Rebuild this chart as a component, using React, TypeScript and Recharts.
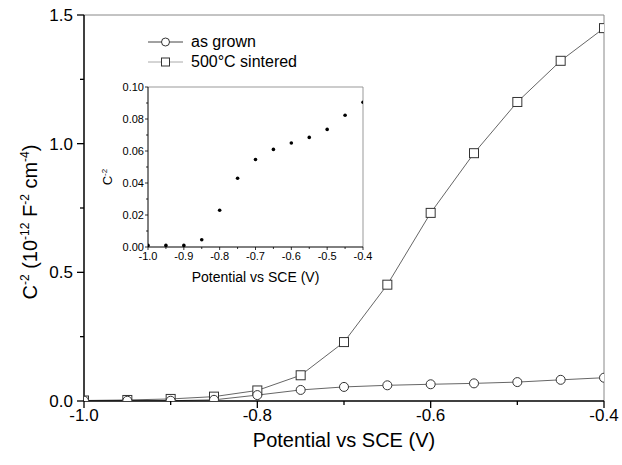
import React from 'react';
import { LineChart, Line, XAxis, YAxis, ReferenceLine, Legend, ScatterChart, Scatter, Label } from 'recharts';

const potentials = [-1.0, -0.95, -0.9, -0.85, -0.8, -0.75, -0.7, -0.65, -0.6, -0.55, -0.5, -0.45, -0.4];
const asGrown = [0.001, 0.001, 0.001, 0.0045, 0.023, 0.043, 0.0547, 0.061, 0.065, 0.0685, 0.0735, 0.0823, 0.0905];
const sintered = [0.002, 0.004, 0.008, 0.017, 0.041, 0.1, 0.229, 0.452, 0.731, 0.963, 1.162, 1.322, 1.449];
const seriesNames = { grown: 'as grown', sintered: '500°C sintered' };
const legendOrder = ['grown', 'sintered'];
const mainXTicks = [-1.0, -0.9, -0.8, -0.7, -0.6, -0.5, -0.4];
const mainYTicks = [0, 0.25, 0.5, 0.75, 1.0, 1.25, 1.5];
const insetXTicks = [-1.0, -0.95, -0.9, -0.85, -0.8, -0.75, -0.7, -0.65, -0.6, -0.55, -0.5, -0.45, -0.4];
const insetYTicks = [0, 0.01, 0.02, 0.03, 0.04, 0.05, 0.06, 0.07, 0.08, 0.09, 0.1];
const xTitle = 'Potential vs SCE (V)';

const mainData = potentials.map((x, i) => ({ x, grown: asGrown[i], sintered: sintered[i] }));
const insetData = potentials.map((x, i) => ({ x, y: asGrown[i] }));

const FONT = '"Liberation Sans", Arial, Helvetica, sans-serif';
const LINE_COLOR = '#666';
const MARK_COLOR = '#333';

const MainXTick = (props: any) => {
  const { x, y, payload } = props;
  const v = payload.value;
  const major = Math.round(v * 10) % 2 === 0;
  return (
    <g>
      <line x1={x} y1={y} x2={x} y2={y + (major ? 7 : 4)} stroke="#000" strokeWidth={1.3} />
      {major && (
        <text x={x} y={y + 20} textAnchor="middle" fontSize={17} fontFamily={FONT} fill="#000">
          {v.toFixed(1)}
        </text>
      )}
    </g>
  );
};

const MainYTick = (props: any) => {
  const { x, y, payload } = props;
  const v = payload.value;
  const major = Math.round(v * 4) % 2 === 0;
  return (
    <g>
      <line x1={x} y1={y} x2={x - (major ? 7 : 4)} y2={y} stroke="#000" strokeWidth={1.3} />
      {major && (
        <text x={x - 11} y={y + 6} textAnchor="end" fontSize={17} fontFamily={FONT} fill="#000">
          {v.toFixed(1)}
        </text>
      )}
    </g>
  );
};

const InsetXTick = (props: any) => {
  const { x, y, payload } = props;
  const v = payload.value;
  const major = Math.round(v * 20) % 2 === 0;
  return (
    <g>
      <line x1={x} y1={y} x2={x} y2={y + (major ? 3 : 2)} stroke="#000" strokeWidth={0.8} />
      {major && (
        <text x={x} y={y + 13} textAnchor="middle" fontSize={11} fontFamily={FONT} fill="#000">
          {v.toFixed(1)}
        </text>
      )}
    </g>
  );
};

const InsetYTick = (props: any) => {
  const { x, y, payload } = props;
  const v = payload.value;
  const major = Math.round(v * 100) % 2 === 0;
  return (
    <g>
      <line x1={x} y1={y} x2={x - (major ? 3 : 2)} y2={y} stroke="#000" strokeWidth={0.8} />
      {major && (
        <text x={x - 4} y={y + 4} textAnchor="end" fontSize={11} fontFamily={FONT} fill="#000">
          {v.toFixed(2)}
        </text>
      )}
    </g>
  );
};

const MainYTitle = (props: any) => {
  const vb = props.viewBox || { x: 0, y: 15, width: 84, height: 386 };
  const cx = vb.x + 37;
  const cy = vb.y + vb.height / 2 + 14;
  return (
    <text x={cx} y={cy} transform={`rotate(-90 ${cx} ${cy})`} textAnchor="middle" fontSize={20} fontFamily={FONT} fill="#000">
      C<tspan dy={-8} fontSize={12}>-2</tspan>
      <tspan dy={8}> (10</tspan>
      <tspan dy={-8} fontSize={12}>-12</tspan>
      <tspan dy={8}> F</tspan>
      <tspan dy={-8} fontSize={12}>-2</tspan>
      <tspan dy={8}> cm</tspan>
      <tspan dy={-8} fontSize={12}>-4</tspan>
      <tspan dy={8}>)</tspan>
    </text>
  );
};

const InsetYTitle = (props: any) => {
  const vb = props.viewBox || { x: 0, y: 9, width: 48, height: 160 };
  const cx = vb.x + 12;
  const cy = vb.y + vb.height / 2 + 10;
  return (
    <text x={cx} y={cy} transform={`rotate(-90 ${cx} ${cy})`} textAnchor="middle" fontSize={13} fontFamily={FONT} fill="#000">
      C<tspan dy={-5} fontSize={8}>-2</tspan>
    </text>
  );
};

const CircleDot = (props: any) => {
  const { cx, cy, index } = props;
  if (cx == null || cy == null) return <g key={`c${index}`} />;
  return <circle key={`c${index}`} cx={cx} cy={cy} r={4.5} fill="#fff" stroke={MARK_COLOR} strokeWidth={1} />;
};

const SquareDot = (props: any) => {
  const { cx, cy, index } = props;
  if (cx == null || cy == null) return <g key={`s${index}`} />;
  return <rect key={`s${index}`} x={cx - 4.5} y={cy - 4.5} width={9} height={9} fill="#fff" stroke={MARK_COLOR} strokeWidth={1} />;
};

const InsetDot = (props: any) => {
  const { cx, cy } = props;
  return <circle cx={cx} cy={cy} r={1.8} fill="#000" />;
};

const LegendContent = (props: any) => {
  const payload = [...(props.payload || [])].sort(
    (a: any, b: any) => legendOrder.indexOf(a.dataKey) - legendOrder.indexOf(b.dataKey)
  );
  return (
    <div style={{ fontFamily: FONT, fontSize: 16, color: '#000' }}>
      {payload.map((entry: any, i: number) => {
        const isSquare = entry.dataKey === 'sintered';
        return (
          <div key={i} style={{ display: 'flex', alignItems: 'center', height: 20 }}>
            <svg width={45} height={20} style={{ display: 'block' }}>
              <line x1={2} y1={10} x2={37} y2={10} stroke={isSquare ? '#aaa' : '#444'} strokeWidth={1} />
              {isSquare ? (
                <rect x={15.5} y={6} width={8} height={8} fill="#fff" stroke={MARK_COLOR} strokeWidth={1} />
              ) : (
                <circle cx={19.5} cy={10} r={4} fill="#fff" stroke={MARK_COLOR} strokeWidth={1} />
              )}
            </svg>
            <span style={{ lineHeight: '20px', whiteSpace: 'nowrap' }}>{entry.value}</span>
          </div>
        );
      })}
    </div>
  );
};

export default function App() {
  return (
    <div style={{ position: 'absolute', left: 0, top: 0, width: 622, height: 465, background: '#fff' }}>
      <LineChart width={622} height={465} data={mainData} margin={{ top: 15, right: 18, bottom: 0, left: 0 }}>
        <XAxis
          type="number"
          dataKey="x"
          domain={[-1, -0.4]}
          ticks={mainXTicks}
          interval={0}
          allowDataOverflow
          height={64}
          tickSize={0}
          tickMargin={0}
          tickLine={false}
          tick={<MainXTick />}
          axisLine={{ stroke: '#000', strokeWidth: 1.5 }}
        >
          <Label value={xTitle} position="insideBottom" offset={18} fontSize={20} fontFamily={FONT} fill="#000" />
        </XAxis>
        <YAxis
          type="number"
          domain={[0, 1.5]}
          ticks={mainYTicks}
          interval={0}
          allowDataOverflow
          width={84}
          tickSize={0}
          tickMargin={0}
          tickLine={false}
          tick={<MainYTick />}
          axisLine={{ stroke: '#000', strokeWidth: 1.5 }}
        >
          <Label content={MainYTitle} />
        </YAxis>
        <ReferenceLine y={1.5} stroke="#888" strokeWidth={1} />
        <ReferenceLine x={-0.4} stroke="#888" strokeWidth={1} />
        <Legend
          layout="vertical"
          align="center"
          verticalAlign="middle"
          content={<LegendContent />}
          wrapperStyle={{ top: 32, left: 146, width: 'auto', height: 'auto' }}
        />
        <Line
          type="linear"
          dataKey="sintered"
          name={seriesNames.sintered}
          stroke={LINE_COLOR}
          strokeWidth={1}
          dot={SquareDot}
          activeDot={false}
          isAnimationActive={false}
        />
        <Line
          type="linear"
          dataKey="grown"
          name={seriesNames.grown}
          stroke={LINE_COLOR}
          strokeWidth={1}
          dot={CircleDot}
          activeDot={false}
          isAnimationActive={false}
        />
      </LineChart>
      <div style={{ position: 'absolute', left: 100, top: 78 }}>
        <ScatterChart width={280} height={215} margin={{ top: 9, right: 17, bottom: 0, left: 0 }}>
          <XAxis
            type="number"
            dataKey="x"
            domain={[-1, -0.4]}
            ticks={insetXTicks}
            interval={0}
            allowDataOverflow
            height={46}
            tickSize={0}
            tickMargin={0}
            tickLine={false}
            tick={<InsetXTick />}
            axisLine={{ stroke: '#000', strokeWidth: 1 }}
          >
            <Label value={xTitle} position="insideBottom" offset={11} fontSize={14} fontFamily={FONT} fill="#000" />
          </XAxis>
          <YAxis
            type="number"
            dataKey="y"
            domain={[0, 0.1]}
            ticks={insetYTicks}
            interval={0}
            allowDataOverflow
            width={48}
            tickSize={0}
            tickMargin={0}
            tickLine={false}
            tick={<InsetYTick />}
            axisLine={{ stroke: '#000', strokeWidth: 1 }}
          >
            <Label content={InsetYTitle} />
          </YAxis>
          <ReferenceLine y={0.1} stroke="#999" strokeWidth={1} />
          <ReferenceLine x={-0.4} stroke="#999" strokeWidth={1} />
          <Scatter data={insetData} shape={InsetDot} isAnimationActive={false} />
        </ScatterChart>
      </div>
    </div>
  );
}
